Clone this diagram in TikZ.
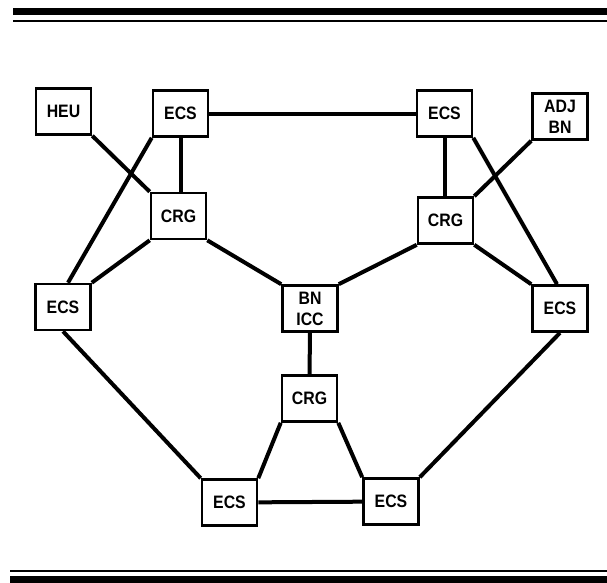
\documentclass[tikz,border=0pt]{standalone}
\usepackage{fontspec}
\setmainfont{Liberation Sans}
\newfontfamily\boxfont[FakeStretch=0.88]{Liberation Sans}
\usetikzlibrary{positioning}
\tikzset{
  box/.style={
    draw=black,
    line width=2.6pt,
    minimum width=55pt,
    minimum height=46pt,
    inner sep=1pt,
    align=center,
    font=\boxfont\bfseries\fontsize{18}{21}\selectfont
  },
  link/.style={
    draw=black,
    line width=4pt
  },
  thickrule/.style={line width=7pt},
  thinrule/.style={line width=2pt}
}

\begin{document}
\begin{tikzpicture}[x=1pt,y=-1pt]
  \useasboundingbox (0,0) rectangle (607,582);

  % rules at top and bottom
  \coordinate (topl) at (13,11.5);
  \coordinate (topr) at (607,11.5);
  \coordinate (subl) at (13,21);
  \coordinate (subr) at (607,21);
  \coordinate (botl) at (10,571);
  \coordinate (botr) at (607,571);
  \coordinate (basel) at (10,579.5);
  \coordinate (baser) at (607,579.5);
  \draw[thickrule] (topl) -- (topr);
  \draw[thinrule] (subl) -- (subr);
  \draw[thinrule] (botl) -- (botr);
  \draw[thickrule] (basel) -- (baser);

  % nodes
  \node[box] (heu) at (63.5,111.5) {HEU};
  \node[box] (ecstl) at (180.5,113.5) {ECS};
  \node[box] (ecstr) at (444.5,113.5) {ECS};
  \node[box] (adj) at (560,116.5) {ADJ\\BN};

  \node[box] (crgl) at (178.5,216) {CRG};
  \node[box] (crgr) at (445.5,220.5) {CRG};

  \node[box] (ecsl) at (63,307) {ECS};
  \node[box] (icc) at (310,308.5) {BN\\ICC};
  \node[box] (ecsr) at (560,308.5) {ECS};

  \node[box] (crgb) at (309.5,398.5) {CRG};

  \node[box] (ecsbl) at (229.5,502.5) {ECS};
  \node[box] (ecsbr) at (391,501.5) {ECS};

  % connectors, left half
  \draw[link] (ecstl) -- (ecstr);
  \draw[link] (ecstl.south) -- (crgl.north -| ecstl.south);
  \draw[link] (heu.south east) -- (crgl.north west);
  \draw[link] (ecstl.south west) -- ([xshift=5pt]ecsl.north);
  \draw[link] (crgl.south west) -- (ecsl.north east);
  \draw[link] (crgl.south east) -- (icc.north west);
  \draw[link] (ecsl.south) -- (ecsbl.north west);

  % connectors, right half
  \draw[link] (ecstr.south) -- (crgr.north -| ecstr.south);
  \draw[link] (adj.south west) -- (crgr.north east);
  \draw[link] (ecstr.south east) -- ([xshift=-3pt]ecsr.north);
  \draw[link] (crgr.south east) -- (ecsr.north west);
  \draw[link] (crgr.south west) -- (icc.north east);
  \draw[link] (ecsr.south) -- (ecsbr.north east);

  % connectors, bottom
  \draw[link] (icc) -- (crgb);
  \draw[link] (crgb.south west) -- (ecsbl.north east);
  \draw[link] (crgb.south east) -- (ecsbr.north west);
  \draw[link] (ecsbl) -- (ecsbr);
\end{tikzpicture}
\end{document}
